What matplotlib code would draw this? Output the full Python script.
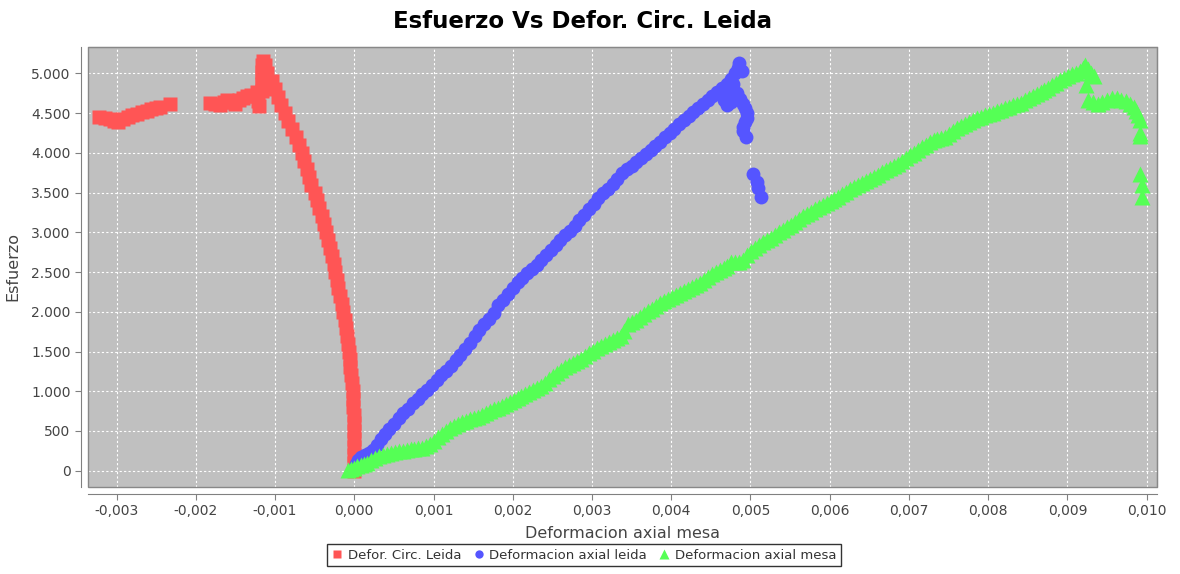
import matplotlib
matplotlib.use("Agg")
import matplotlib.pyplot as plt
from matplotlib.lines import Line2D
from matplotlib.patches import Rectangle

# Defor. Circ. Leida (red squares)
circ_x = [-0.00322, -0.00315, -0.00308, -0.00303, -0.00298, -0.00292, -0.00286, -0.00280,
          -0.00274, -0.00268, -0.00262, -0.00256, -0.00250, -0.00245, -0.00232,
          -0.00182, -0.00176, -0.00170, -0.00165, -0.00160, -0.00155, -0.00150, -0.00145,
          -0.00140, -0.00135, -0.00130, -0.00125, -0.00121, -0.00120, -0.00123,
          -0.00117, -0.00117, -0.00117, -0.00117, -0.00117, -0.00115,
          -0.00113, -0.00110, -0.00104, -0.00100, -0.00096, -0.00092, -0.00088, -0.00083,
          -0.00078, -0.00074, -0.00070, -0.00066, -0.00063, -0.00060, -0.00057, -0.00054,
          -0.00050, -0.00047, -0.00044, -0.00041, -0.00038, -0.00036, -0.00033, -0.00031,
          -0.00028, -0.00026, -0.00024, -0.00022, -0.00020, -0.00018, -0.00016, -0.00014,
          -0.00012, -0.00011, -0.00009, -0.00008, -0.00007, -0.00006, -0.00005, -0.00004,
          -0.00003, -0.00002, -0.000015, -0.00001, -0.000005, 0.0, 0.0, 0.0, 0.0, 0.0, 0.0, 0.0]
circ_y = [4450, 4440, 4420, 4395, 4390, 4420, 4450, 4470,
          4490, 4510, 4530, 4550, 4565, 4580, 4610,
          4630, 4610, 4600, 4640, 4660, 4640, 4610, 4660,
          4690, 4710, 4730, 4720, 4650, 4590, 4760,
          4780, 4860, 4940, 5020, 5100, 5150,
          5100, 5000, 4900, 4800, 4700, 4600, 4500, 4400,
          4300, 4200, 4100, 4000, 3900, 3800, 3700, 3600,
          3500, 3400, 3300, 3200, 3100, 3000, 2900, 2800,
          2700, 2600, 2500, 2400, 2300, 2200, 2100, 2000,
          1900, 1800, 1700, 1600, 1500, 1400, 1300, 1200,
          1100, 1000, 900, 800, 700, 600, 500, 400, 300, 200, 100, 0]

# Deformacion axial leida (blue circles)
leida_x = [0.00000, 0.00002, 0.00005, 0.00009, 0.00014, 0.00019, 0.00024, 0.00029, 0.00034,
           0.00039, 0.00044, 0.00050, 0.00056, 0.00062, 0.00068, 0.00074, 0.00080, 0.00086,
           0.00092, 0.00098, 0.00104, 0.00110, 0.00116, 0.00122, 0.00128, 0.00134, 0.00140,
           0.00146, 0.00152, 0.00158, 0.00164, 0.00170, 0.00176, 0.00182, 0.00188, 0.00194,
           0.00200, 0.00206, 0.00212, 0.00218, 0.00224, 0.00230, 0.00236, 0.00242, 0.00248,
           0.00254, 0.00260, 0.00266, 0.00272, 0.00278, 0.00284, 0.00290, 0.00296, 0.00302,
           0.00308, 0.00314, 0.00320, 0.00326, 0.00332, 0.00338, 0.00344, 0.00350, 0.00356,
           0.00362, 0.00368, 0.00374, 0.00380, 0.00386, 0.00392, 0.00398, 0.00404, 0.00410,
           0.00416, 0.00422, 0.00428, 0.00434, 0.00440, 0.00446, 0.00452, 0.00458, 0.00464,
           0.00470, 0.00476, 0.00480, 0.00484, 0.00486, 0.00489,
           0.00478, 0.00472, 0.00467, 0.00466, 0.00470, 0.00476, 0.00483, 0.00487, 0.00491,
           0.00493, 0.00495, 0.00495, 0.00493, 0.00491, 0.00491, 0.00494,
           0.00503, 0.00508, 0.00510, 0.00513]
leida_y = [20, 80, 130, 170, 200, 225, 260, 320, 400,
           460, 520, 590, 660, 720, 780, 848, 900, 960,
           1020, 1080, 1140, 1200, 1260, 1320, 1390, 1460, 1530,
           1610, 1690, 1770, 1840, 1910, 1990, 2080, 2150, 2220,
           2300, 2370, 2420, 2490, 2540, 2590, 2650, 2710, 2780,
           2840, 2900, 2960, 3020, 3080, 3150, 3220, 3290, 3360,
           3430, 3490, 3550, 3610, 3670, 3740, 3790, 3840, 3890,
           3940, 3990, 4040, 4090, 4140, 4200, 4250, 4300, 4360,
           4410, 4460, 4510, 4560, 4610, 4660, 4710, 4760, 4810,
           4860, 4930, 5000, 5070, 5130, 5030,
           4870, 4800, 4730, 4660, 4600, 4640, 4750, 4680, 4620,
           4560, 4500, 4440, 4390, 4330, 4270, 4200,
           3730, 3630, 3560, 3450]

# Deformacion axial mesa (green triangles)
mesa_x = [-0.00008, -0.00004, 0.00000, 0.00004, 0.00008, 0.00012, 0.00016, 0.00021, 0.00026,
          0.00031, 0.00036, 0.00041, 0.00046, 0.00051, 0.00056, 0.00061, 0.00066, 0.00071,
          0.00076, 0.00081, 0.00086, 0.00091, 0.00096, 0.00101, 0.00106, 0.00111, 0.00116,
          0.00121, 0.00126, 0.00131, 0.00136, 0.00141, 0.00146, 0.00151, 0.00156, 0.00161,
          0.00166, 0.00171, 0.00176, 0.00181, 0.00186, 0.00191, 0.00196, 0.00201, 0.00206,
          0.00211, 0.00216, 0.00221, 0.00226, 0.00231, 0.00236, 0.00241, 0.00246, 0.00251,
          0.00256, 0.00261, 0.00266, 0.00271, 0.00276, 0.00281, 0.00286, 0.00291, 0.00296,
          0.00301, 0.00306, 0.00311, 0.00316, 0.00321, 0.00326, 0.00331, 0.00336, 0.00341,
          0.00346, 0.00351, 0.00356, 0.00361, 0.00366, 0.00371, 0.00376, 0.00381, 0.00386,
          0.00391, 0.00396, 0.00401, 0.00406, 0.00411, 0.00416, 0.00421, 0.00426, 0.00431,
          0.00436, 0.00441, 0.00446, 0.00451, 0.00456, 0.00461, 0.00466, 0.00471, 0.00476,
          0.00481, 0.00486, 0.00491, 0.00496, 0.00501, 0.00506, 0.00511, 0.00516, 0.00521,
          0.00526, 0.00531, 0.00536, 0.00541, 0.00546, 0.00551, 0.00556, 0.00561, 0.00566,
          0.00571, 0.00576, 0.00581, 0.00586, 0.00591, 0.00596, 0.00601, 0.00606, 0.00611,
          0.00616, 0.00621, 0.00626, 0.00631, 0.00636, 0.00641, 0.00646, 0.00651, 0.00656,
          0.00661, 0.00666, 0.00671, 0.00676, 0.00681, 0.00686, 0.00691, 0.00696, 0.00701,
          0.00706, 0.00711, 0.00716, 0.00721, 0.00726, 0.00731, 0.00736, 0.00741, 0.00746,
          0.00751, 0.00756, 0.00761, 0.00766, 0.00771, 0.00776, 0.00781, 0.00786, 0.00791,
          0.00796, 0.00801, 0.00806, 0.00811, 0.00816, 0.00821, 0.00826, 0.00831, 0.00836,
          0.00841, 0.00846, 0.00851, 0.00856, 0.00861, 0.00866, 0.00871, 0.00876, 0.00881,
          0.00886, 0.00891, 0.00896, 0.00901, 0.00906, 0.00911, 0.00916, 0.00920, 0.00922,
          0.00926, 0.00930, 0.00933, 0.00924,
          0.00926, 0.00932, 0.00938, 0.00944, 0.00950, 0.00956, 0.00962, 0.00968, 0.00974,
          0.00979, 0.00984, 0.00987, 0.00989, 0.00991, 0.00991, 0.00991,
          0.00992, 0.00994, 0.00994]
mesa_y = [10, 20, 30, 55, 70, 85, 100, 130, 160,
          180, 195, 210, 225, 235, 245, 250, 260, 270,
          275, 280, 290, 305, 340, 380, 420, 460, 500,
          540, 565, 590, 610, 630, 645, 660, 675, 700,
          730, 755, 775, 795, 815, 840, 865, 890, 915,
          940, 960, 985, 1010, 1035, 1065, 1110, 1150, 1190,
          1230, 1270, 1300, 1330, 1360, 1385, 1405, 1440, 1480,
          1510, 1540, 1565, 1590, 1615, 1640, 1665, 1690, 1760,
          1840, 1870, 1900, 1935, 1970, 2010, 2040, 2075, 2105,
          2130, 2160, 2185, 2205, 2230, 2260, 2290, 2315, 2335,
          2360, 2400, 2440, 2470, 2500, 2525, 2550, 2580, 2620,
          2625, 2620, 2650, 2710, 2760, 2800, 2840, 2880, 2905,
          2930, 2960, 3000, 3030, 3065, 3095, 3130, 3165, 3200,
          3230, 3260, 3290, 3320, 3345, 3365, 3390, 3420, 3450,
          3480, 3510, 3545, 3575, 3600, 3625, 3650, 3675, 3700,
          3725, 3755, 3780, 3805, 3830, 3865, 3900, 3935, 3970,
          4000, 4035, 4070, 4100, 4130, 4160, 4175, 4190, 4205,
          4240, 4280, 4310, 4340, 4365, 4390, 4415, 4440, 4455,
          4470, 4490, 4505, 4520, 4540, 4560, 4580, 4600, 4615,
          4630, 4660, 4690, 4720, 4740, 4760, 4790, 4820, 4850,
          4880, 4910, 4940, 4965, 4990, 5010, 5030, 5070, 5110,
          5060, 5010, 4970, 4850,
          4670, 4640, 4620, 4640, 4660, 4690, 4690, 4670, 4650,
          4620, 4580, 4530, 4470, 4410, 4250, 4210,
          3730, 3600, 3450]

x_ticks = [-0.003, -0.002, -0.001, 0.0, 0.001, 0.002, 0.003, 0.004, 0.005,
           0.006, 0.007, 0.008, 0.009, 0.010]
x_labels = ["-0,003", "-0,002", "-0,001", "0,000", "0,001", "0,002", "0,003", "0,004",
            "0,005", "0,006", "0,007", "0,008", "0,009", "0,010"]
y_ticks = [0, 500, 1000, 1500, 2000, 2500, 3000, 3500, 4000, 4500, 5000]
y_labels = ["0", "500", "1.000", "1.500", "2.000", "2.500", "3.000", "3.500",
            "4.000", "4.500", "5.000"]

RED = "#FF5555"
BLUE = "#5555FF"
GREEN = "#55FF55"

fig = plt.figure(figsize=(11.8, 5.74), dpi=100)
ax = fig.add_axes([88 / 1180, 1 - 486.7 / 574, (1157 - 88) / 1180, (486.7 - 46.7) / 574])
ax.set_facecolor("#C0C0C0")

ax.plot(circ_x, circ_y, ls="none", marker="s", ms=9.5, color=RED, mec="none")
ax.plot(leida_x, leida_y, ls="none", marker="o", ms=10, color=BLUE, mec="none")
ax.plot(mesa_x, mesa_y, ls="none", marker="^", ms=11, color=GREEN, mec="none")

ax.set_xlim(-0.00336, 0.01013)
ax.set_ylim(-201, 5335)
ax.set_xticks(x_ticks)
ax.set_xticklabels(x_labels)
ax.set_yticks(y_ticks)
ax.set_yticklabels(y_labels)
ax.grid(True, color="white", linestyle=(0, (2, 2)), linewidth=0.8)
ax.set_axisbelow(True)

for side in ["top", "right"]:
    ax.spines[side].set_color("#888888")
for side in ["left", "bottom"]:
    ax.spines[side].set_position(("outward", 5))
    ax.spines[side].set_color("#808080")
ax.add_patch(Rectangle((0, 0), 1, 1, transform=ax.transAxes, fill=False,
                       edgecolor="#888888", linewidth=1, clip_on=False, zorder=5))
ax.tick_params(colors="#808080", labelcolor="#444444", labelsize=10, length=4)

ax.set_xlabel("Deformacion axial mesa", fontsize=11.5, color="#444444", labelpad=6)
ax.set_ylabel("Esfuerzo", fontsize=11.5, color="#444444", labelpad=8)

fig.text(0.494, 1 - 21 / 574, "Esfuerzo Vs Defor. Circ. Leida", ha="center", va="center",
         fontsize=16.5, fontweight="bold")

handles = [
    Line2D([], [], ls="none", marker="s", ms=6, color=RED, mec="none"),
    Line2D([], [], ls="none", marker="o", ms=6, color=BLUE, mec="none"),
    Line2D([], [], ls="none", marker="^", ms=6.5, color=GREEN, mec="none"),
]
leg = fig.legend(handles, ["Defor. Circ. Leida", "Deformacion axial leida", "Deformacion axial mesa"],
                 loc="lower center", bbox_to_anchor=(0.495, 0.002), ncol=3, fontsize=9.5,
                 frameon=True, fancybox=False, handlelength=0.8, handletextpad=0.4,
                 columnspacing=0.9, borderpad=0.35)
leg.get_frame().set_edgecolor("black")
leg.get_frame().set_linewidth(1)
for t in leg.get_texts():
    t.set_color("#333333")

fig.savefig("out.png", dpi=100)
